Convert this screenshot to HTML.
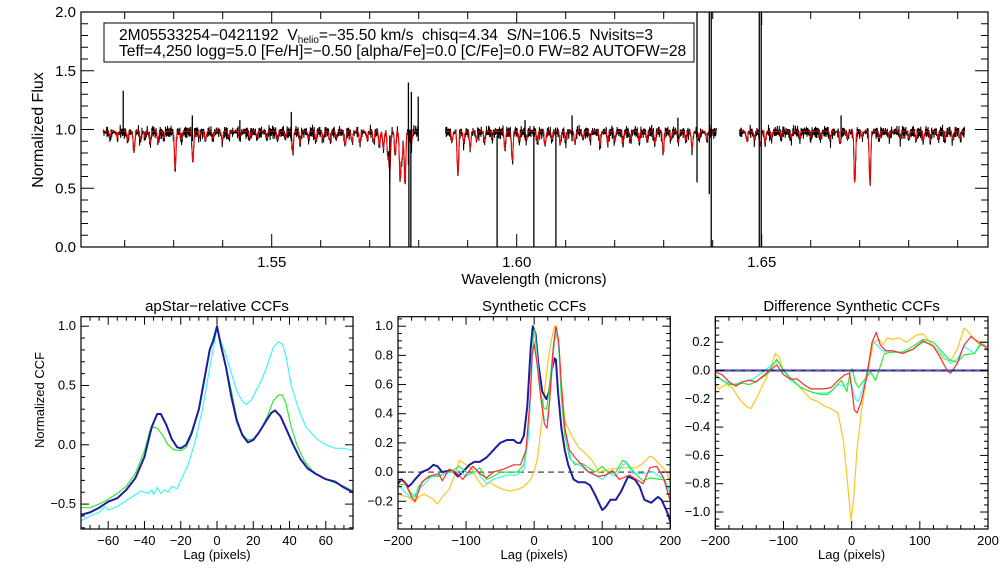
<!DOCTYPE html>
<html><head><meta charset="utf-8"><style>
body{margin:0;background:#fff;}
svg{display:block;font-family:"Liberation Sans",sans-serif;}
</style></head><body>
<svg id="fig" width="1008" height="576" viewBox="0 0 1008 576">
<defs>
<clipPath id="c0"><rect x="81" y="12" width="907" height="235"/></clipPath>
<clipPath id="c1"><rect x="81" y="316.7" width="272" height="212.3"/></clipPath>
<clipPath id="c2"><rect x="398" y="316.7" width="272.3" height="212.3"/></clipPath>
<clipPath id="c3"><rect x="715.3" y="316.7" width="272.7" height="212.3"/></clipPath>
</defs>
<g id="g0"></g>
<g id="g1"></g>
<g id="g2"></g>
<g id="g3"></g>
</svg>
<script>
// ---------- spectrum data ----------
const segments = [[1.5156,1.5799],[1.5855,1.6408],[1.6455,1.6914]];
const redLineW = [1.5219,1.5252,1.5303,1.5339,1.5399,1.5435,1.5543,1.5558,1.5619,1.5650,1.5680,1.5737,1.5741,1.5752,1.5762,1.5766,1.5772,1.5880,1.5905,1.5976,1.5991,1.6058,1.6089,1.6119,1.6170,1.6217,1.6299,1.6358,1.6497,1.6507,1.6578,1.6660,1.6690,1.6721,1.6783,1.6844,1.6874,
 1.5170,1.5185,1.5206,1.5232,1.5241,1.5268,1.5280,1.5316,1.5352,1.5365,1.5380,1.5412,1.5455,1.5470,1.5490,1.5512,1.5528,1.5575,1.5590,1.5605,1.5632,1.5664,1.5695,1.5708,1.5720,1.5728,1.5785,
 1.5868,1.5892,1.5918,1.5934,1.5950,1.6005,1.6020,1.6042,1.6072,1.6100,1.6135,1.6150,1.6186,1.6200,1.6232,1.6250,1.6266,1.6282,1.6315,1.6330,1.6345,1.6372,1.6388,
 1.6470,1.6485,1.6520,1.6540,1.6560,1.6600,1.6620,1.6640,1.6675,1.6705,1.6740,1.6760,1.6800,1.6815,1.6830,1.6860,1.6890,1.6905];
const redLineD = [0.17,0.10,0.32,0.26,0.08,0.06,0.18,0.10,0.08,0.12,0.10,0.20,0.35,0.20,0.40,0.25,0.45,0.37,0.15,0.15,0.25,0.12,0.10,0.10,0.12,0.10,0.18,0.15,0.12,0.10,0.06,0.10,0.44,0.45,0.06,0.08,0.07,
 0.05,0.06,0.08,0.07,0.05,0.09,0.06,0.07,0.05,0.08,0.06,0.05,0.06,0.05,0.06,0.07,0.05,0.06,0.08,0.07,0.06,0.09,0.07,0.10,0.12,0.15,0.12,
 0.08,0.10,0.07,0.09,0.06,0.08,0.07,0.09,0.07,0.08,0.06,0.07,0.10,0.08,0.07,0.09,0.08,0.10,0.07,0.09,0.08,0.06,0.07,
 0.08,0.07,0.06,0.05,0.06,0.05,0.06,0.07,0.06,0.05,0.06,0.05,0.06,0.07,0.08,0.06,0.07,0.06];
const noise = [0.01,-0.02,0.03,-0.01,0.00,-0.04,0.02,0.01,-0.03,0.04,-0.02,0.00,0.02,-0.05,0.01,0.03,-0.01,-0.03,0.02,0.00,-0.02,0.04,-0.01,-0.04,0.01,0.02,-0.02,0.03,0.00,-0.03,0.01,-0.01,0.02,-0.02,0.03,-0.04,0.00];
const noise2 = [0.00,0.02,-0.01,-0.03,0.01,0.03,-0.02,0.00,0.02,-0.04,0.01,-0.01,0.03,0.00,-0.02,0.02,-0.03,0.01,0.00,0.02,-0.01,-0.02,0.03];
const spikeW = [1.5197,1.5338,1.5435,1.5540,1.5779,1.5785,1.5799,1.6017,1.6113,1.6329,1.6662,1.5741,1.5780,1.5784,1.5960,1.6035,1.6080,1.6368,1.6393,1.6397,1.6495,1.6499];
const spikeLo = [0.95,0.9,0.92,0.9,0.7,0.8,0.9,0.92,0.9,0.92,0.94,0.0,-0.1,-0.1,0.0,0.0,0.0,0.55,0.45,-0.1,-0.1,-0.1];
const spikeHi = [1.33,1.12,1.08,1.15,1.40,1.32,1.28,1.08,1.12,1.10,1.12,0.95,1.0,1.0,0.95,0.97,0.97,2.1,2.1,2.1,2.1,2.1];
const specYTicks = [0.0,0.5,1.0,1.5,2.0];
const specXTicks = [1.55,1.60,1.65];

// ---------- CCF data ----------
const p1Lag = {
 blue:[-75,-70,-65,-60,-55,-50,-45,-40,-36,-33,-31,-28,-25,-22,-20,-17,-14,-10,-7,-4,-2,0,2,5,8,11,14,17,20,23,27,30,32,35,38,42,46,50,55,60,65,70,75],
 green:[-75,-70,-65,-60,-55,-50,-45,-40,-37,-35,-33,-30,-27,-24,-20,-17,-14,-10,-7,-4,0,2,5,8,11,14,17,20,24,28,31,34,36,38,41,44,48,52,56,60,65,70,75],
 cyan:[-75,-70,-65,-62,-60,-55,-50,-45,-42,-38,-36,-35,-33,-31,-29,-27,-25,-22,-20,-16,-12,-8,-4,-2,0,2,5,8,11,14,16,19,22,25,28,31,34,36,38,41,45,49,52,55,60,65,70,75]};
const p1Val = {
 blue:[-0.59,-0.57,-0.53,-0.48,-0.45,-0.38,-0.28,-0.1,0.15,0.26,0.26,0.17,0.05,-0.02,-0.03,0.0,0.1,0.3,0.55,0.8,0.88,1.0,0.85,0.65,0.4,0.2,0.08,0.02,0.04,0.1,0.2,0.27,0.29,0.24,0.14,0.0,-0.12,-0.2,-0.25,-0.29,-0.31,-0.36,-0.4],
 green:[-0.53,-0.53,-0.5,-0.46,-0.41,-0.35,-0.24,-0.05,0.12,0.15,0.14,0.08,0.0,-0.04,-0.05,-0.02,0.08,0.3,0.55,0.8,1.0,0.85,0.65,0.45,0.22,0.09,0.04,0.05,0.12,0.25,0.37,0.42,0.42,0.35,0.15,0.0,-0.13,-0.21,-0.26,-0.29,-0.32,-0.35,-0.39],
 cyan:[-0.64,-0.6,-0.57,-0.52,-0.55,-0.52,-0.47,-0.42,-0.39,-0.41,-0.38,-0.42,-0.36,-0.41,-0.38,-0.4,-0.35,-0.37,-0.3,-0.17,0.03,0.3,0.65,0.82,0.98,0.88,0.75,0.6,0.45,0.37,0.34,0.38,0.47,0.56,0.68,0.82,0.87,0.85,0.75,0.5,0.3,0.15,0.1,0.05,0.0,-0.03,-0.03,-0.05]};
const p2Lag = {
 yellow:[-200,-195,-185,-175,-170,-162,-150,-142,-135,-125,-115,-110,-100,-92,-85,-75,-65,-55,-45,-35,-25,-15,-5,0,5,10,15,20,25,30,35,40,45,55,65,75,85,95,110,130,150,160,170,175,185,195,200],
 red:[-200,-190,-180,-175,-165,-155,-140,-135,-125,-115,-105,-90,-80,-70,-60,-45,-30,-20,-12,-6,-3,0,4,10,15,19,23,28,32,36,40,45,52,60,70,80,95,105,115,125,140,150,160,170,180,190,200],
 cyan:[-200,-180,-170,-150,-120,-110,-100,-85,-70,-60,-40,-25,-15,-8,-4,-1,2,5,10,15,19,24,29,33,37,42,48,55,65,80,100,110,120,130,135,145,160,175,185,195,200],
 green:[-200,-190,-180,-175,-170,-160,-150,-140,-130,-120,-110,-100,-90,-80,-70,-60,-50,-40,-25,-15,-8,-4,-1,1,4,8,14,18,22,27,32,36,40,45,52,60,70,80,90,100,110,120,130,135,150,160,170,185,192,200],
 blue:[-200,-195,-190,-185,-180,-175,-165,-155,-148,-142,-135,-125,-118,-112,-105,-95,-88,-80,-70,-60,-50,-40,-30,-25,-20,-15,-10,-5,-2,2,6,12,18,22,26,30,32,35,40,45,50,58,65,75,82,90,100,105,112,120,128,138,148,155,162,172,182,187,195,200]};
const p2Val = {
 yellow:[-0.14,-0.16,-0.17,-0.21,-0.17,-0.15,-0.18,-0.22,-0.17,-0.12,0.0,0.08,0.05,0.03,-0.04,-0.1,-0.07,-0.1,-0.12,-0.13,-0.12,-0.1,-0.05,0.0,0.1,0.3,0.55,0.75,0.9,1.0,0.9,0.6,0.35,0.25,0.17,0.13,0.08,0.0,0.02,0.03,0.03,0.06,0.11,0.1,0.05,0.0,-0.08],
 red:[-0.05,-0.07,-0.17,-0.2,-0.07,-0.03,-0.01,-0.06,0.02,0.0,-0.05,0.04,-0.01,-0.04,0.0,0.02,0.05,0.05,0.15,0.5,0.8,0.88,0.75,0.5,0.33,0.3,0.5,0.85,1.0,0.9,0.6,0.3,0.15,0.1,0.05,0.0,-0.03,-0.02,0.01,-0.05,-0.02,-0.05,-0.08,0.03,0.04,-0.04,-0.2],
 cyan:[-0.09,-0.18,-0.12,-0.03,0.0,0.01,-0.03,0.01,-0.08,-0.05,-0.02,-0.02,0.02,0.25,0.65,0.9,0.88,0.75,0.5,0.36,0.35,0.55,0.85,0.98,0.8,0.45,0.2,0.08,0.05,0.0,-0.05,-0.01,-0.03,0.05,0.06,-0.01,-0.01,0.0,-0.03,-0.08,-0.15],
 green:[-0.09,-0.08,-0.15,-0.17,-0.1,-0.05,-0.03,-0.03,-0.01,0.01,0.04,0.0,-0.01,0.03,-0.05,-0.03,0.0,0.0,0.0,0.05,0.3,0.7,0.95,0.98,0.8,0.58,0.44,0.43,0.55,0.8,0.98,0.85,0.5,0.25,0.1,0.05,0.06,0.03,0.0,0.04,-0.01,0.0,0.08,0.07,-0.02,-0.06,-0.04,-0.05,-0.05,-0.15],
 blue:[-0.08,-0.05,-0.07,-0.1,-0.08,-0.05,0.0,0.02,0.05,0.04,0.0,0.01,0.0,-0.03,0.0,0.05,0.07,0.07,0.1,0.15,0.2,0.22,0.22,0.2,0.2,0.25,0.45,0.85,1.0,0.95,0.75,0.55,0.5,0.55,0.7,0.78,0.77,0.55,0.3,0.15,0.05,-0.05,-0.07,-0.07,-0.09,-0.16,-0.26,-0.24,-0.19,-0.19,-0.13,-0.03,-0.05,-0.1,-0.19,-0.21,-0.17,-0.19,-0.27,-0.34]};
const p3Lag = {
 yellow:[-200,-195,-185,-175,-165,-155,-148,-140,-130,-120,-112,-107,-100,-92,-80,-70,-60,-50,-40,-30,-20,-12,-6,-1,3,8,14,20,26,32,40,46,52,60,70,80,95,105,115,125,135,145,155,165,172,180,190,200],
 cyan:[-200,-185,-175,-160,-145,-130,-110,-100,-90,-80,-70,-55,-40,-30,-20,-10,-4,0,5,10,18,25,30,35,45,60,75,90,105,115,125,135,145,155,165,172,180,190,200],
 green:[-200,-190,-180,-170,-160,-150,-140,-125,-110,-100,-90,-75,-60,-45,-35,-25,-15,-7,-2,1,5,10,18,28,35,40,48,60,75,90,105,120,135,145,155,165,180,190,200],
 red:[-200,-190,-180,-170,-160,-150,-140,-130,-110,-100,-90,-80,-70,-60,-50,-40,-30,-20,-10,-3,0,4,8,14,22,30,36,42,50,60,75,90,105,120,130,140,145,155,165,175,185,195,200],
 blue:[-200,200]};
const p3Val = {
 yellow:[-0.1,-0.13,-0.1,-0.12,-0.2,-0.25,-0.27,-0.2,-0.1,0.0,0.12,0.1,0.0,-0.05,-0.1,-0.15,-0.2,-0.22,-0.25,-0.27,-0.3,-0.5,-0.8,-1.06,-0.9,-0.55,-0.3,-0.1,0.05,0.2,0.22,0.18,0.23,0.22,0.23,0.2,0.25,0.26,0.2,0.15,0.08,0.07,0.15,0.3,0.27,0.22,0.2,0.16],
 cyan:[-0.04,-0.08,-0.1,-0.08,-0.06,-0.01,0.07,0.0,-0.07,-0.1,-0.13,-0.16,-0.16,-0.15,-0.1,-0.11,-0.08,-0.1,-0.2,-0.22,-0.1,0.05,0.2,0.19,0.14,0.13,0.13,0.15,0.2,0.19,0.15,0.1,0.05,0.08,0.17,0.15,0.12,0.18,0.17],
 green:[-0.03,-0.07,-0.1,-0.1,-0.09,-0.1,-0.08,-0.03,0.08,0.0,-0.05,-0.12,-0.15,-0.17,-0.17,-0.12,-0.07,-0.15,0.0,0.01,-0.08,-0.12,-0.07,-0.01,-0.07,0.0,0.12,0.13,0.13,0.17,0.22,0.2,0.12,0.07,0.06,0.11,0.12,0.2,0.2],
 red:[-0.01,-0.03,-0.08,-0.11,-0.08,-0.07,-0.08,-0.04,0.04,-0.03,-0.06,-0.06,-0.1,-0.13,-0.13,-0.13,-0.12,-0.07,-0.03,-0.02,-0.12,-0.28,-0.3,-0.22,-0.05,0.2,0.27,0.18,0.14,0.14,0.12,0.15,0.21,0.17,0.09,0.0,-0.02,0.05,0.18,0.24,0.2,0.17,0.14],
 blue:[0,0]};

const COL = {blue:'#1c1ca0', green:'#33e833', cyan:'#3ff6f6', red:'#ff2a2a', yellow:'#ffc420'};
const NS='http://www.w3.org/2000/svg';
function mk(parent,tag,attrs){const e=document.createElementNS(NS,tag);for(const k in attrs)e.setAttribute(k,attrs[k]);parent.appendChild(e);return e;}

// ---------- top spectrum panel ----------
const g0=document.getElementById('g0');
const X0=w=>271.7+(w-1.55)*4900;
const Y0=f=>247-117.5*f;
function model(w){let r=0.985;for(let i=0;i<redLineW.length;i++){const d=(w-redLineW[i])/0.00022;r-=redLineD[i]*Math.exp(-d*d);}return r;}
const sg=mk(g0,'g',{'clip-path':'url(#c0)'});
segments.forEach((s,si)=>{
 let pb='',pr='',k=si*11;
 for(let w=s[0];w<=s[1];w+=0.00006){
  const m=model(w);const b=m+noise[k%noise.length]*0.9+noise2[k%noise2.length]*0.8-0.005;k++;
  pb+=(pb?'L':'M')+X0(w).toFixed(1)+','+Y0(b).toFixed(1);
  pr+=(pr?'L':'M')+X0(w).toFixed(1)+','+Y0(m).toFixed(1);
 }
 const lb=mk(sg,'path',{d:pb,fill:'none',stroke:'#000','stroke-width':1});
 
 
 const lr=mk(sg,'path',{d:pr,fill:'none',stroke:'#f00','stroke-width':1});
 
 
});
spikeW.forEach((w,i)=>{
 const l=mk(sg,'line',{x1:X0(w),x2:X0(w),y1:Y0(spikeLo[i]),y2:Y0(spikeHi[i]),stroke:'#000','stroke-width':1.3});
 
 
});
mk(g0,'rect',{x:81,y:12,width:907,height:235,fill:'none',stroke:'#000','stroke-width':1.2});
for(let v=0;v<=2.0001;v+=0.1){const y=Y0(v),maj=Math.abs(v*2-Math.round(v*2))<1e-6,L=maj?13:7;
 mk(g0,'line',{x1:81,x2:81+L,y1:y,y2:y,stroke:'#000'});mk(g0,'line',{x1:988,x2:988-L,y1:y,y2:y,stroke:'#000'});}
for(let w=1.52;w<=1.6951;w+=0.01){const x=X0(w),maj=Math.abs(w*20-Math.round(w*20))<1e-6,L=maj?13:7;
 mk(g0,'line',{x1:x,x2:x,y1:247,y2:247-L,stroke:'#000'});mk(g0,'line',{x1:x,x2:x,y1:12,y2:12+L,stroke:'#000'});}
specYTicks.forEach(v=>{const t=mk(g0,'text',{x:76,y:Y0(v)+5,'font-size':15,'text-anchor':'end'});t.textContent=v.toFixed(1);
 });
specXTicks.forEach(v=>{const t=mk(g0,'text',{x:X0(v),y:267,'font-size':15,'text-anchor':'middle'});t.textContent=v.toFixed(2);
 });
let t=mk(g0,'text',{x:534,y:284,'font-size':15,'text-anchor':'middle'});t.textContent='Wavelength (microns)';

t=mk(g0,'text',{x:0,y:0,'font-size':16,'text-anchor':'middle',transform:'translate(43,130) rotate(-90)'});t.textContent='Normalized Flux';

const box=mk(g0,'rect',{x:104,y:23,width:590,height:39,fill:'#fff',stroke:'#000','stroke-width':1});

t=mk(g0,'text',{x:119,y:40,'font-size':15.6});
t.innerHTML='2M05533254&#8722;0421192&#160; V<tspan font-size="10" dy="3">helio</tspan><tspan dy="-3">=&#8722;35.50 km/s&#160; chisq=4.34&#160; S/N=106.5&#160; Nvisits=3</tspan>';

t=mk(g0,'text',{x:119,y:56,'font-size':15.6});t.textContent='Teff=4,250 logg=5.0 [Fe/H]=\u22120.50 [alpha/Fe]=0.0 [C/Fe]=0.0 FW=82 AUTOFW=28';


// ---------- CCF panels ----------
function panel(gid,clip,x0,x1,xmin,xmax,ymin,ymax,xMaj,xMin,yMaj,yMin,yDec,title,lags,vals,order,ylabel,zeroDash){
 const g=document.getElementById(gid),y0=316.7,y1=529;
 const X=v=>x0+(v-xmin)/(xmax-xmin)*(x1-x0), Y=v=>y1-(v-ymin)/(ymax-ymin)*(y1-y0);
 const cg=mk(g,'g',{'clip-path':clip});
 if(zeroDash){const z=mk(cg,'line',{x1:x0,x2:x1,y1:Y(0),y2:Y(0),stroke:'#666','stroke-width':1.5,'stroke-dasharray':'6,4'});
  }
 order.forEach(s=>{let d='';lags[s].forEach((l,i)=>{d+=(i?'L':'M')+X(l).toFixed(1)+','+Y(vals[s][i]).toFixed(1);});
  const p=mk(cg,'path',{d:d,fill:'none',stroke:COL[s],'stroke-width':s==='blue'?2:1.2,'stroke-linejoin':'round'});
  });
 if(gid==='g3'){mk(cg,'line',{x1:x0,x2:x1,y1:Y(0),y2:Y(0),stroke:'#666','stroke-width':1,'stroke-dasharray':'6,4'});}
 mk(g,'rect',{x:x0,y:y0,width:x1-x0,height:y1-y0,fill:'none',stroke:'#000','stroke-width':1.2});
 for(let v=Math.ceil(xmin/xMin)*xMin;v<=xmax+1e-6;v+=xMin){const x=X(v),maj=Math.abs(v/xMaj-Math.round(v/xMaj))<1e-6,L=maj?8:4;
  mk(g,'line',{x1:x,x2:x,y1:y1,y2:y1-L,stroke:'#000'});mk(g,'line',{x1:x,x2:x,y1:y0,y2:y0+L,stroke:'#000'});
  if(maj){const tt=mk(g,'text',{x:x,y:y1+16,'font-size':13,'text-anchor':'middle'});tt.textContent=String(Math.round(v)).replace('-','\u2212');
   }}
 for(let v=Math.ceil(ymin/yMin-1e-6)*yMin;v<=ymax+1e-6;v+=yMin){const y=Y(v),maj=Math.abs(v/yMaj-Math.round(v/yMaj))<1e-6,L=maj?8:4;
  mk(g,'line',{x1:x0,x2:x0+L,y1:y,y2:y,stroke:'#000'});mk(g,'line',{x1:x1,x2:x1-L,y1:y,y2:y,stroke:'#000'});
  if(maj){const tt=mk(g,'text',{x:x0-5,y:y+4,'font-size':13,'text-anchor':'end'});tt.textContent=(Math.abs(v)<1e-9?0:v).toFixed(yDec).replace('-','\u2212');
   }}
 let tt=mk(g,'text',{x:(x0+x1)/2,y:311,'font-size':15,'text-anchor':'middle'});tt.textContent=title;
 
 tt=mk(g,'text',{x:(x0+x1)/2,y:559,'font-size':13,'text-anchor':'middle'});tt.textContent='Lag (pixels)';
 
 if(ylabel){tt=mk(g,'text',{x:0,y:0,'font-size':13,'text-anchor':'middle',transform:'translate(44,400) rotate(-90)'});tt.textContent=ylabel;
  }
}
panel('g1','url(#c1)',81,353,-75,75,-0.71,1.08,20,5,0.5,0.1,1,'apStar\u2212relative CCFs',p1Lag,p1Val,['cyan','green','blue'],'Normalized CCF',false);
panel('g2','url(#c2)',398,670.3,-200,200,-0.39,1.065,100,20,0.2,0.05,1,'Synthetic CCFs',p2Lag,p2Val,['yellow','blue','green','cyan','red'],null,true);
panel('g3','url(#c3)',715.3,988,-200,200,-1.12,0.38,100,20,0.2,0.05,1,'Difference Synthetic CCFs',p3Lag,p3Val,['yellow','cyan','green','red','blue'],null,false);
</script>
</body></html>
